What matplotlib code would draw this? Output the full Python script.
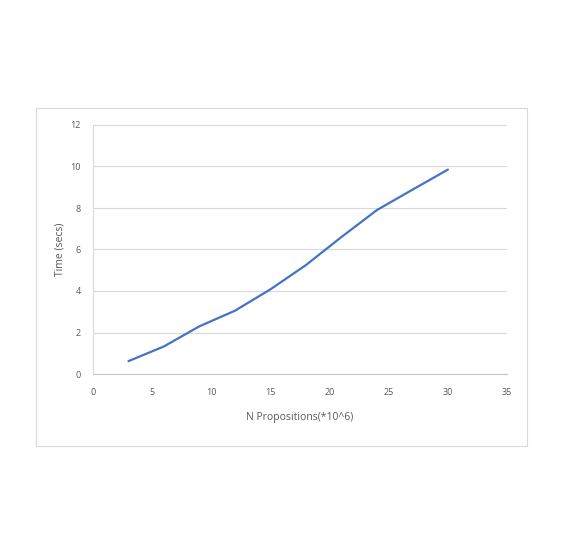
import matplotlib

matplotlib.use("Agg")
import matplotlib.pyplot as plt
from matplotlib.patches import Rectangle

# data
n_propositions = [3, 6, 9, 12, 15, 18, 21, 24, 27, 30]
time_secs = [0.62, 1.33, 2.3, 3.05, 4.08, 5.25, 6.6, 7.9, 8.88, 9.85]
x_ticks = [0, 5, 10, 15, 20, 25, 30, 35]
y_ticks = [0, 2, 4, 6, 8, 10, 12]

plt.rcParams["font.family"] = ["Open Sans", "DejaVu Sans"]
text_grey = "#595959"
grid_grey = "#d9d9d9"

fig = plt.figure(figsize=(5.63, 5.56), dpi=100)
fig.patch.set_facecolor("white")

# outer chart-area border
fig.patches.append(
    Rectangle((36 / 563, 110 / 556), 491 / 563, 338 / 556,
              transform=fig.transFigure, fill=False,
              edgecolor=grid_grey, linewidth=0.8)
)

ax = fig.add_axes([93 / 563, 182 / 556, 414 / 563, 249 / 556])
ax.plot(n_propositions, time_secs, color="#4472C4", linewidth=1.6,
        solid_capstyle="round", zorder=3)

ax.set_xlim(0, 35)
ax.set_ylim(0, 12)
ax.set_xticks(x_ticks)
ax.set_yticks(y_ticks)
ax.tick_params(axis="both", length=0, labelsize=6.5, colors=text_grey)
ax.tick_params(axis="x", pad=10)
ax.tick_params(axis="y", pad=9)
ax.grid(True, axis="y", color=grid_grey, linewidth=0.8)
ax.set_axisbelow(True)

for side in ("top", "right"):
    ax.spines[side].set_visible(False)
ax.spines["left"].set_color(grid_grey)
ax.spines["left"].set_linewidth(0.8)
ax.spines["bottom"].set_color("#c8c8c8")
ax.spines["bottom"].set_linewidth(0.8)

ax.set_xlabel("N Propositions(*10^6)", fontsize=7.5, color=text_grey, labelpad=11)
ax.set_ylabel("Time (secs)", fontsize=7.5, color=text_grey, labelpad=3)

fig.savefig("out.png", dpi=100, facecolor="white")
